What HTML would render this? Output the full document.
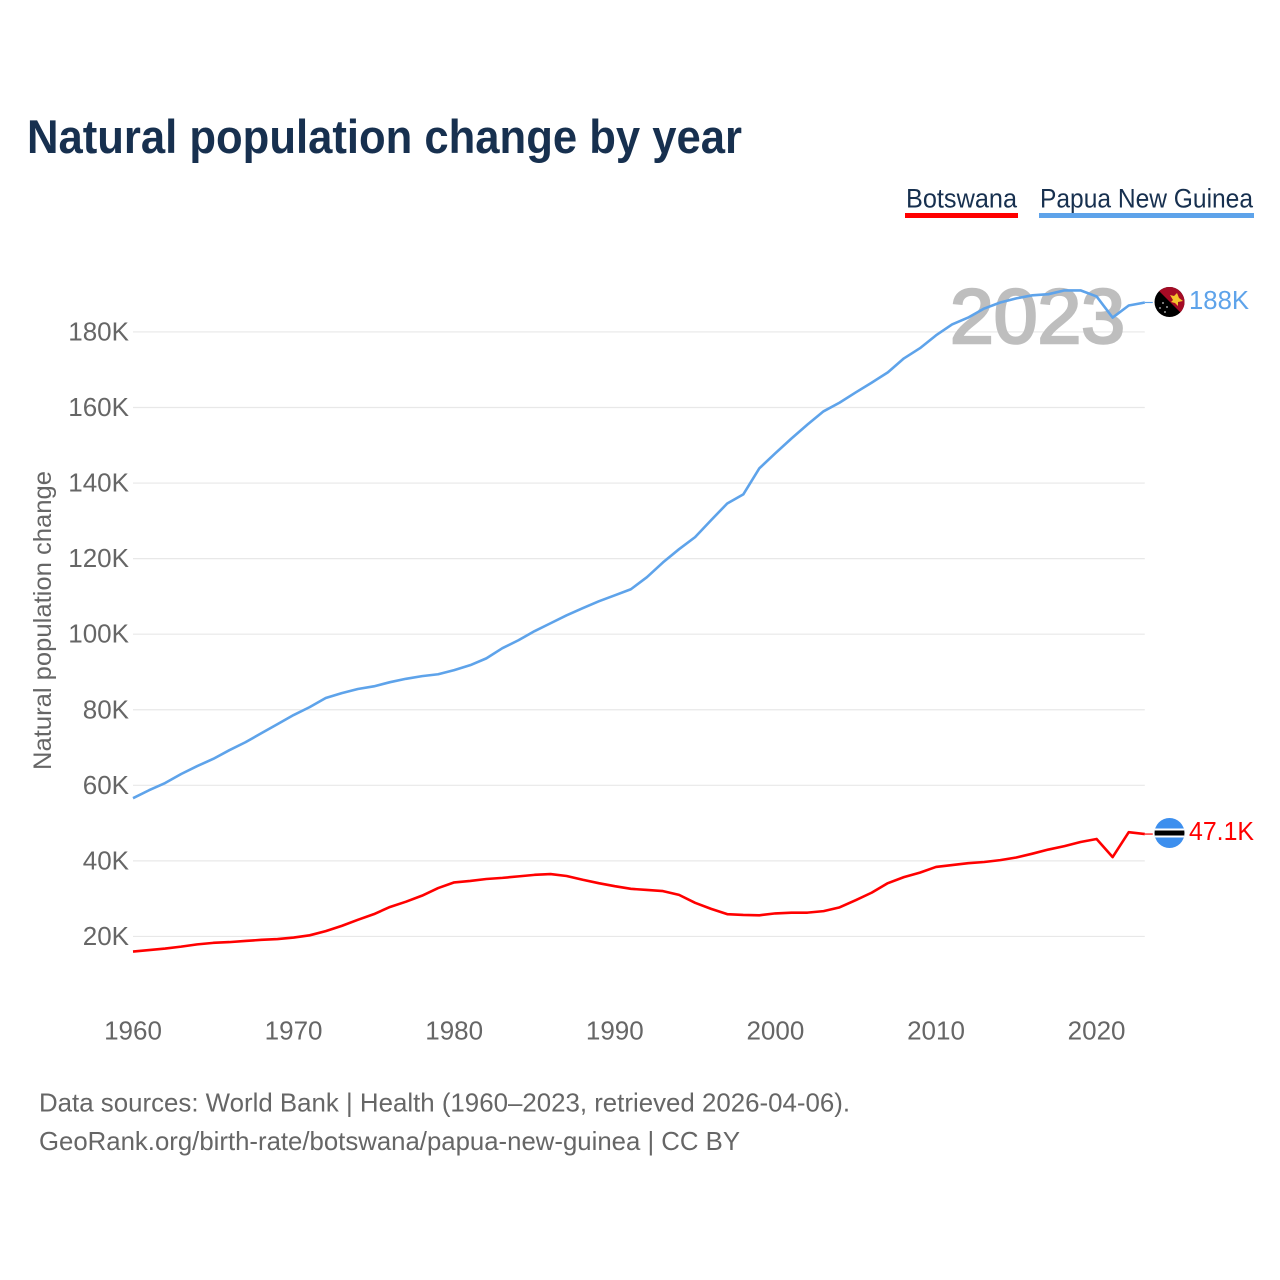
<!DOCTYPE html>
<html lang="en">
<head>
<meta charset="utf-8">
<title>Natural population change by year</title>
<style>
html,body{margin:0;padding:0;background:#fff;width:1280px;height:1280px;overflow:hidden}
svg{display:block}
text{font-family:"Liberation Sans",sans-serif}
</style>
</head>
<body>
<svg id="chart" xmlns="http://www.w3.org/2000/svg" width="1280" height="1280" viewBox="0 0 1280 1280">
  <rect x="0" y="0" width="1280" height="1280" fill="#ffffff"/>
  <text x="27" y="153" font-size="47" font-weight="700" fill="#17304f" textLength="715" lengthAdjust="spacingAndGlyphs">Natural population change by year</text>

  <g>
    <g>
      <text x="906" y="207.5" font-size="27" fill="#17304f" textLength="111" lengthAdjust="spacingAndGlyphs">Botswana</text>
      <rect x="905" y="213" width="113" height="5" fill="#ff0000"/>
    </g>
    <g>
      <text x="1040" y="207.5" font-size="27" fill="#17304f" textLength="213" lengthAdjust="spacingAndGlyphs">Papua New Guinea</text>
      <rect x="1039" y="213" width="215" height="5" fill="#5ea3ea"/>
    </g>
  </g>

  <g id="grid"></g>
  <g id="yticks"></g>
  <g id="xticks"></g>
  <text transform="translate(51,770) rotate(-90)" x="0" y="0" font-size="25" fill="#666666" textLength="299" lengthAdjust="spacingAndGlyphs">Natural population change</text>

  <text x="950" y="343" font-size="77" font-weight="400" fill="#bebebe" stroke="#bebebe" stroke-width="2.6" textLength="175" lengthAdjust="spacingAndGlyphs">2023</text>

  <g id="series"></g>

  <g>
    <clipPath id="clip-png"><circle cx="1169.5" cy="302" r="15"/></clipPath>
    <g clip-path="url(#clip-png)">
      <rect x="1154" y="286" width="31" height="32" fill="#000000"/>
      <polygon points="1154,286 1186,286 1186,318" fill="#a50b25"/>
      <polygon points="1170,295 1173,300 1171,302 1175,303 1178,306 1178,302 1183,301 1179,298 1177,293 1174,296" fill="#f5c32c"/>
      <circle cx="1163" cy="303" r="0.9" fill="#cccccc"/>
      <circle cx="1167" cy="307" r="0.9" fill="#cccccc"/>
      <circle cx="1160" cy="308" r="0.9" fill="#cccccc"/>
      <circle cx="1165" cy="312" r="0.9" fill="#cccccc"/>
    </g>
  </g>
  <g>
    <clipPath id="clip-bw"><circle cx="1169.5" cy="833" r="15"/></clipPath>
    <g clip-path="url(#clip-bw)">
      <rect x="1154" y="817" width="31" height="32" fill="#3d8fee"/>
      <rect x="1154" y="828.5" width="31" height="9" fill="#ffffff"/>
      <rect x="1154" y="830.5" width="31" height="5" fill="#000000"/>
    </g>
  </g>

  <text x="1189" y="309" font-size="26" fill="#5ea3ea" textLength="60" lengthAdjust="spacingAndGlyphs">188K</text>
  <text x="1189" y="840" font-size="26" fill="#ff0000" textLength="65" lengthAdjust="spacingAndGlyphs">47.1K</text>

  <text x="39" y="1111.5" font-size="26" fill="#666666" textLength="811" lengthAdjust="spacingAndGlyphs">Data sources: World Bank | Health (1960–2023, retrieved 2026-04-06).</text>
  <text x="39" y="1150" font-size="26" fill="#666666" textLength="701" lengthAdjust="spacingAndGlyphs">GeoRank.org/birth-rate/botswana/papua-new-guinea | CC BY</text>
</svg>
<script>
const firstYear = 1960;
const xTickYears = [1960, 1970, 1980, 1990, 2000, 2010, 2020];
const yTickValues = [20000, 40000, 60000, 80000, 100000, 120000, 140000, 160000, 180000];
const yTickLabels = ['20K', '40K', '60K', '80K', '100K', '120K', '140K', '160K', '180K'];
const papuaNewGuinea = [56600, 58700, 60600, 63000, 65100, 67000, 69300, 71400, 73800, 76200,
  78600, 80700, 83100, 84400, 85500, 86200, 87300, 88200, 88900, 89400,
  90500, 91800, 93600, 96300, 98400, 100800, 102900, 105000, 106900, 108700,
  110300, 111900, 115100, 119000, 122500, 125700, 130200, 134600, 137000, 143900,
  147900, 151800, 155500, 159000, 161300, 164000, 166600, 169300, 173000, 175700,
  179100, 182000, 183800, 186200, 187800, 188900, 189700, 190000, 191000, 191000,
  189400, 183800, 187000, 187800];
const botswana = [16000, 16400, 16800, 17300, 17900, 18300, 18500, 18800, 19100, 19300,
  19700, 20300, 21400, 22800, 24400, 25900, 27800, 29200, 30800, 32800,
  34300, 34700, 35200, 35500, 35900, 36300, 36500, 36000, 35000, 34100,
  33300, 32600, 32300, 32000, 31000, 28900, 27300, 25900, 25700, 25600,
  26100, 26300, 26300, 26700, 27700, 29600, 31600, 34100, 35700, 36900,
  38400, 38900, 39400, 39700, 40200, 40900, 41900, 43000, 43900, 45000,
  45800, 41000, 47600, 47100];

const NS = 'http://www.w3.org/2000/svg';
const xScale = function (year) { return 133 + (year - 1960) * 16.06; };
const yScale = function (value) { return 1012 - value * 0.0037780; };
const lastYear = firstYear + botswana.length - 1;

const gridGroup = document.getElementById('grid');
const yTickGroup = document.getElementById('yticks');
yTickValues.forEach(function (value, i) {
  const line = document.createElementNS(NS, 'line');
  
  
  line.setAttribute('x1', 133);
  line.setAttribute('x2', xScale(lastYear));
  line.setAttribute('y1', yScale(value));
  line.setAttribute('y2', yScale(value));
  line.setAttribute('stroke', '#e8e8e8');
  line.setAttribute('stroke-width', '1.2');
  gridGroup.appendChild(line);

  const label = document.createElementNS(NS, 'text');
  
  
  label.setAttribute('x', 129);
  label.setAttribute('y', yScale(value) + 8.5);
  label.setAttribute('text-anchor', 'end');
  label.setAttribute('font-size', '26');
  label.setAttribute('fill', '#666666');
  label.textContent = yTickLabels[i];
  yTickGroup.appendChild(label);
});

const xTickGroup = document.getElementById('xticks');
xTickYears.forEach(function (year) {
  const label = document.createElementNS(NS, 'text');
  
  
  label.setAttribute('x', xScale(year));
  label.setAttribute('y', 1039.5);
  label.setAttribute('text-anchor', 'middle');
  label.setAttribute('font-size', '26');
  label.setAttribute('fill', '#666666');
  label.textContent = String(year);
  xTickGroup.appendChild(label);
});

function pathFor(values) {
  return values.map(function (value, i) {
    return (i ? 'L' : 'M') + xScale(firstYear + i).toFixed(2) + ' ' + yScale(value).toFixed(2);
  }).join(' ');
}

const seriesGroup = document.getElementById('series');

const pngLine = document.createElementNS(NS, 'path');


pngLine.setAttribute('d', pathFor(papuaNewGuinea));
pngLine.setAttribute('fill', 'none');
pngLine.setAttribute('stroke', '#5ea3ea');
pngLine.setAttribute('stroke-width', '2.6');
pngLine.setAttribute('stroke-linejoin', 'round');
seriesGroup.appendChild(pngLine);

const bwLine = document.createElementNS(NS, 'path');


bwLine.setAttribute('d', pathFor(botswana));
bwLine.setAttribute('fill', 'none');
bwLine.setAttribute('stroke', '#ff0000');
bwLine.setAttribute('stroke-width', '2.6');
bwLine.setAttribute('stroke-linejoin', 'round');
seriesGroup.appendChild(bwLine);

const pngLeader = document.createElementNS(NS, 'line');


pngLeader.setAttribute('x1', xScale(lastYear));
pngLeader.setAttribute('x2', xScale(lastYear) + 8);
pngLeader.setAttribute('y1', yScale(papuaNewGuinea[papuaNewGuinea.length - 1]));
pngLeader.setAttribute('y2', yScale(papuaNewGuinea[papuaNewGuinea.length - 1]));
pngLeader.setAttribute('stroke', '#5ea3ea');
pngLeader.setAttribute('stroke-width', '1.2');
seriesGroup.appendChild(pngLeader);

const bwLeader = document.createElementNS(NS, 'line');


bwLeader.setAttribute('x1', xScale(lastYear));
bwLeader.setAttribute('x2', xScale(lastYear) + 8);
bwLeader.setAttribute('y1', yScale(botswana[botswana.length - 1]));
bwLeader.setAttribute('y2', yScale(botswana[botswana.length - 1]));
bwLeader.setAttribute('stroke', '#ff0000');
bwLeader.setAttribute('stroke-width', '1.2');
seriesGroup.appendChild(bwLeader);
</script>
</body>
</html>
